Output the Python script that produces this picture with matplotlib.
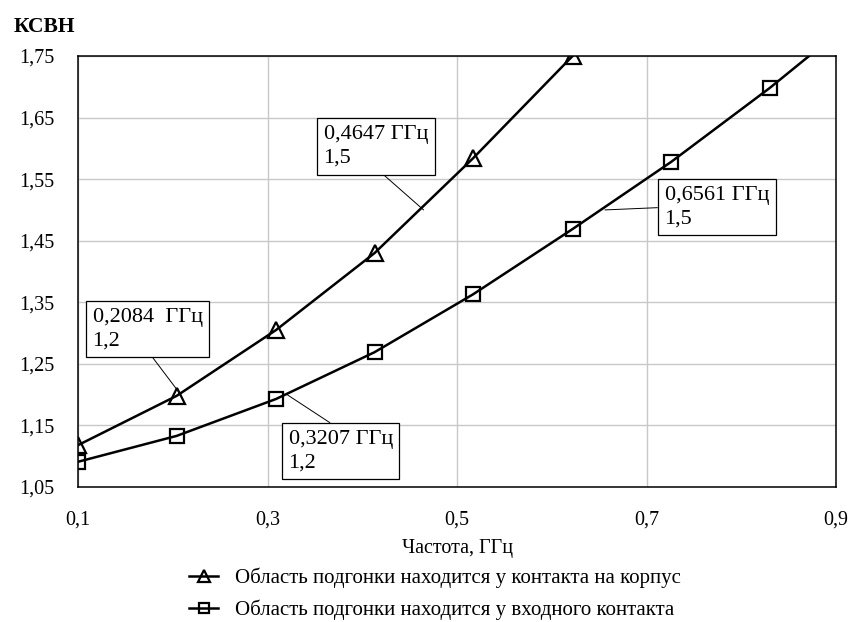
import matplotlib
matplotlib.use('Agg')
import matplotlib.pyplot as plt

plt.rcParams['font.family'] = ['Liberation Serif', 'DejaVu Serif']

# Data
freq = [0.1, 0.204, 0.309, 0.413, 0.517, 0.622, 0.726, 0.830, 0.934]
vswr_case = [1.118, 1.198, 1.305, 1.430, 1.584, 1.750, 1.950]      # fit area at the case contact
vswr_input = [1.091, 1.133, 1.193, 1.269, 1.363, 1.469, 1.578, 1.698, 1.828]  # fit area at the input contact

labels = ['Область подгонки находится у контакта на корпус',
          'Область подгонки находится у входного контакта']

xticks = [0.1, 0.3, 0.5, 0.7, 0.9]
xticklabels = ['0,1', '0,3', '0,5', '0,7', '0,9']
yticks = [1.05, 1.15, 1.25, 1.35, 1.45, 1.55, 1.65, 1.75]
yticklabels = ['1,05', '1,15', '1,25', '1,35', '1,45', '1,55', '1,65', '1,75']

# callouts: point (freq, vswr), text, text position, where the leader leaves the box
callout_f = [0.2084, 0.3207, 0.4647, 0.6561]
callout_v = [1.2, 1.2, 1.5, 1.5]
callout_txt = ['0,2084  ГГц\n1,2', '0,3207 ГГц\n1,2', '0,4647 ГГц\n1,5', '0,6561 ГГц\n1,5']
callout_pos = [(0.1153, 1.341), (0.3222, 1.143), (0.3591, 1.638), (0.719, 1.539)]
callout_rel = [(0.5, 0), (0.5, 1), (0.5, 0), (0, 0.5)]

fig = plt.figure(figsize=(8.51, 6.22), dpi=100)
ax = fig.add_axes([0.0917, 0.217, 0.8907, 0.693])

l1, = ax.plot(freq[:len(vswr_case)], vswr_case, color='black', lw=1.8,
              marker='^', ms=11, mfc='none', mec='black', mew=1.6)
l2, = ax.plot(freq, vswr_input, color='black', lw=1.8,
              marker='s', ms=10, mfc='none', mec='black', mew=1.6)

ax.set_xlim(0.1, 0.9)
ax.set_ylim(1.05, 1.75)
ax.set_xticks(xticks)
ax.set_xticklabels(xticklabels)
ax.set_yticks(yticks)
ax.set_yticklabels(yticklabels)
ax.tick_params(length=0, labelsize=14.5, pad=17)
ax.grid(color='#c8c8c8', lw=1)
ax.set_axisbelow(True)
for s in ax.spines.values():
    s.set_linewidth(1.1)

for f, v, t, pos, rel in zip(callout_f, callout_v, callout_txt, callout_pos, callout_rel):
    ax.annotate(t, xy=(f, v), xytext=pos, textcoords='data', ha='left', va='top',
                fontsize=16, linespacing=1.35, zorder=5,
                bbox=dict(boxstyle='square,pad=0.3', fc='white', ec='black', lw=0.9),
                arrowprops=dict(arrowstyle='-', color='black', lw=0.7, relpos=rel,
                                shrinkA=0, shrinkB=0))

fig.text(14 / 851, 1 - 27 / 622, 'КСВН', fontsize=15.5, fontweight='bold', va='center', ha='left')
fig.text(458 / 851, 1 - 549 / 622, 'Частота, ГГц', fontsize=14.5, va='center', ha='center')

fig.legend([l1, l2], labels, loc='upper left', bbox_to_anchor=(0.222, 0.087),
           frameon=False, fontsize=15, borderpad=0, borderaxespad=0,
           handlelength=1.4, handletextpad=0.8, labelspacing=0.55, markerscale=0.75)

fig.savefig('out.png', dpi=100)
